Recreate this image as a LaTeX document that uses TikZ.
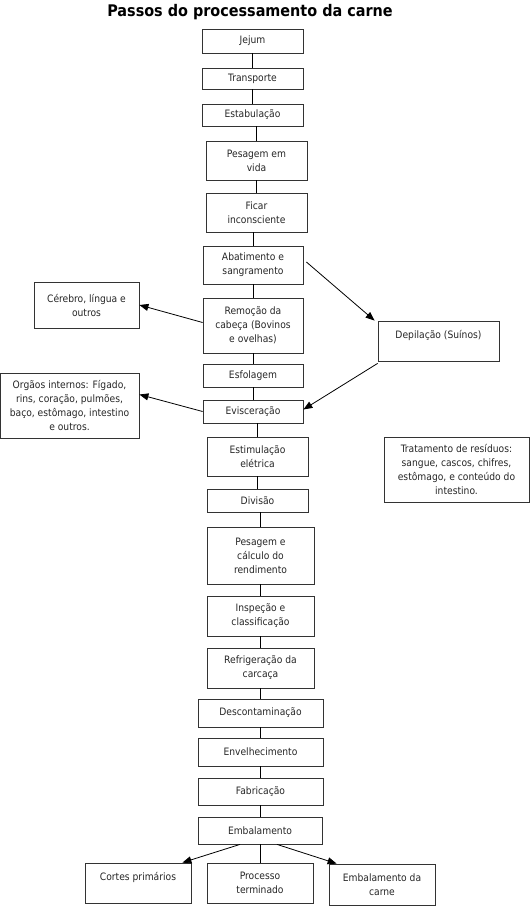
\documentclass[tikz,border=0pt]{standalone}
\usepackage{fontspec}
\setmainfont{DejaVu Sans Condensed}
\usetikzlibrary{arrows.meta}

\begin{document}
\begin{tikzpicture}[x = 1pt, y = -1pt,
        passo/.style = {draw = black!80, line width = 0.8pt, text = black!85, align = center,
            inner sep = 0pt, font = \fontsize{10.2}{14}\selectfont},
        seta/.style = {-{Triangle[length = 9pt, width = 7pt]}, line width = 0.8pt}]
            \useasboundingbox (0,0) rectangle (530,924);
            \node[font = \fontsize{16}{18}\selectfont\bfseries] (titulo) at (250,12) {Passos do processamento da carne};
            % coluna principal
            \node[passo, minimum width = 101pt, minimum height = 24pt] (jejum) at (252.5,41) {Jejum};
            \node[passo, minimum width = 101pt, minimum height = 21pt] (transporte) at (252.5,78.5) {Transporte};
            \node[passo, minimum width = 101pt, minimum height = 22pt] (estabulacao) at (252.5,115) {Estabulação};
            \node[passo, minimum width = 101pt, minimum height = 39pt] (pesagem) at (256.5,160.5) {Pesagem em\\vida};
            \node[passo, minimum width = 101pt, minimum height = 39pt] (ficar) at (256.5,212.5) {Ficar\\inconsciente};
            \node[passo, minimum width = 100pt, minimum height = 38pt] (abate) at (253,265) {Abatimento e\\sangramento};
            \node[passo, minimum width = 100pt, minimum height = 55pt] (cabeca) at (253,325.5) {Remoção da\\cabeça (Bovinos\\e ovelhas)};
            \node[passo, minimum width = 100pt, minimum height = 23pt] (esfola) at (253,375.5) {Esfolagem};
            \node[passo, minimum width = 100pt, minimum height = 23pt] (evisc) at (253,411.5) {Evisceração};
            \node[passo, minimum width = 101pt, minimum height = 39pt] (estim) at (257.5,456.5) {Estimulação\\elétrica};
            \node[passo, minimum width = 101pt, minimum height = 23pt] (divisao) at (257.5,500.5) {Divisão};
            \node[passo, minimum width = 107pt, minimum height = 57pt] (rendim) at (260.5,555.5) {Pesagem e\\cálculo do\\rendimento};
            \node[passo, minimum width = 107pt, minimum height = 40pt] (inspec) at (260.5,616) {Inspeção e\\classificação};
            \node[passo, minimum width = 107pt, minimum height = 40pt] (refrig) at (260.5,668) {Refrigeração da\\carcaça};
            \node[passo, minimum width = 125pt, minimum height = 28pt] (descont) at (260.5,713) {Descontaminação};
            \node[passo, minimum width = 125pt, minimum height = 28pt] (envelh) at (260.5,752) {Envelhecimento};
            \node[passo, minimum width = 125pt, minimum height = 27pt] (fabric) at (260.5,791.5) {Fabricação};
            \node[passo, minimum width = 124pt, minimum height = 27pt] (embal) at (260,830.5) {Embalamento};
            % caixas laterais
            \node[passo, minimum width = 105pt, minimum height = 46pt] (cerebro) at (86.5,305) {Cérebro, língua e\\outros};
            \node[passo, minimum width = 139pt, minimum height = 65pt] (orgaos) at (69.5,405.5) {Orgãos internos: Fígado,\\rins, coração, pulmões,\\baço, estômago, intestino\\e outros.};
            \node[passo, minimum width = 121pt, minimum height = 40pt] (depil) at (438.5,341) {Depilação (Suínos)\\\mbox{}};
            \node[passo, minimum width = 145pt, minimum height = 65pt] (residuos) at (456.5,469.5) {Tratamento de resíduos:\\sangue, cascos, chifres,\\estômago, e conteúdo do\\intestino.};
            \node[passo, minimum width = 106pt, minimum height = 40pt] (cortes) at (138,883) {Cortes primários\\\mbox{}};
            \node[passo, minimum width = 106pt, minimum height = 40pt] (processo) at (260,883) {Processo\\terminado};
            \node[passo, minimum width = 106pt, minimum height = 41pt] (carne) at (382,884.5) {Embalamento da\\carne};
            % ligações
            \begin{scope}[line width = 0.8pt]
                \draw (transporte |- jejum.south) -- (transporte);
                \draw (estabulacao |- transporte.south) -- (estabulacao);
                \draw (pesagem |- estabulacao.south) -- (pesagem);
                \draw (ficar |- pesagem.south) -- (ficar);
                \draw (abate |- ficar.south) -- (abate);
                \draw (cabeca |- abate.south) -- (cabeca);
                \draw (esfola |- cabeca.south) -- (esfola);
                \draw (evisc |- esfola.south) -- (evisc);
                \draw (estim |- evisc.south) -- (estim);
                \draw (divisao |- estim.south) -- (divisao);
                \draw (rendim |- divisao.south) -- (rendim);
                \draw (inspec |- rendim.south) -- (inspec);
                \draw (refrig |- inspec.south) -- (refrig);
                \draw (descont |- refrig.south) -- (descont);
                \draw (envelh |- descont.south) -- (envelh);
                \draw (fabric |- envelh.south) -- (fabric);
                \draw (embal |- fabric.south) -- (embal);
                \draw (processo |- embal.south) -- (processo);
            \end{scope}
            \draw[seta] ([xshift = 3pt, yshift = 3pt]abate.east) -- ([xshift = -3pt]depil.north west);
            \draw[seta] ([yshift = -2pt]depil.south west) -- ([yshift = 2pt]evisc.east);
            \draw[seta] ([yshift = 3pt]cabeca.west) -- (cerebro.east);
            \draw[seta] (evisc.west) -- ([yshift = 11pt]orgaos.east);
            \draw[seta] ([xshift = -20pt]embal.south) -- ([xshift = -9pt]cortes.north east);
            \draw[seta] ([xshift = 17pt]embal.south) -- ([xshift = 8pt]carne.north west);
        \end{tikzpicture}
\end{document}
